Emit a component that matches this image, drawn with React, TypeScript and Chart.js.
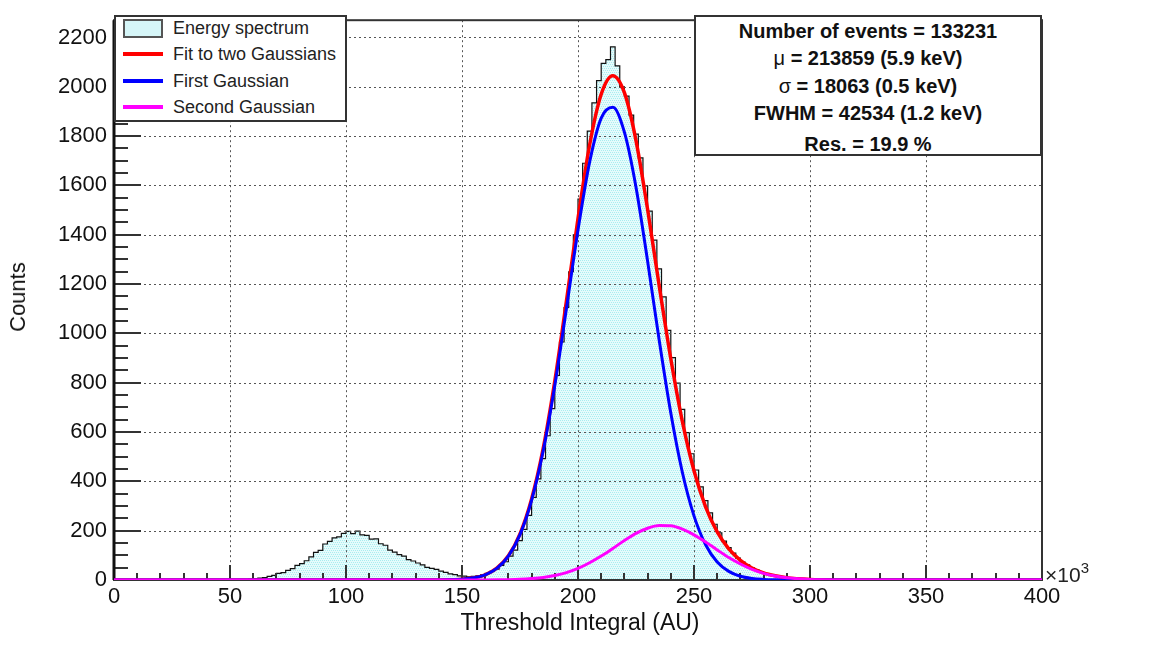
import { useEffect, useRef } from 'react';
import { Chart, registerables } from 'chart.js';

Chart.register(...registerables);

// x values are in units of 10^3 (AU)
const xMajorTicks = [0, 50, 100, 150, 200, 250, 300, 350, 400];
const yMajorTicks = [0, 200, 400, 600, 800, 1000, 1200, 1400, 1600, 1800, 2000, 2200];
const xMinorStep = 10;
const yMinorStep = 50;
const yMax = 2270;

// histogram: bins of 2k starting at 50k
const histStart = 50;
const histBinWidth = 2;
const histCounts = [
  0, 1, 1, 2, 3, 5, 8, 10, 15, 19,
  27, 30, 39, 46, 59, 66, 78, 94, 112, 120,
  146, 157, 171, 175, 189, 197, 188, 198, 183, 181,
  166, 167, 147, 141, 121, 113, 103, 97, 83, 77,
  69, 61, 51, 47, 43, 36, 31, 25, 22, 17,
  16, 13, 15, 17, 21, 27, 35, 44, 59, 74,
  97, 121, 160, 205, 262, 335, 410, 492, 585, 695,
  830, 965, 1105, 1250, 1400, 1545, 1690, 1820, 1935, 2025,
  2095, 2110, 2162, 2085, 2000, 1962, 1885, 1808, 1712, 1598,
  1496, 1378, 1262, 1148, 1012, 902, 798, 692, 598, 512,
  446, 378, 322, 272, 226, 191, 158, 131, 109, 89,
  73, 61, 49, 41, 31, 26, 19, 16, 12, 9,
  7, 5, 4, 3, 2, 1, 1, 0,
];

// fitted curves sampled along x
const curveX = [
  0, 130, 140, 145, 150, 155, 160, 165, 170, 175,
  180, 185, 190, 195, 200, 205, 210, 215, 220, 225,
  230, 235, 240, 245, 250, 255, 260, 265, 270, 275,
  280, 285, 290, 295, 300, 305, 310, 320, 400,
];
const fitTotal = [
  0, 0, 0.4, 1.2, 3.5, 9, 21, 48, 98, 187,
  329, 534, 807, 1130, 1466, 1764, 1970, 2045, 1976, 1782,
  1503, 1193, 897, 642, 443, 297, 195, 126, 80, 49,
  29, 17, 9, 5, 2.5, 1.2, 0.5, 0.1, 0,
];
const firstGauss = [
  0, 0, 0.4, 1.2, 3.5, 9, 21, 47, 97, 184,
  323, 524, 789, 1100, 1419, 1694, 1873, 1917, 1816, 1593,
  1293, 972, 677, 436, 260, 143, 73, 35, 15, 6,
  2.3, 0.8, 0.3, 0.1, 0, 0, 0, 0, 0,
];
const secondGauss = [
  0, 0, 0, 0, 0, 0.1, 0.3, 0.7, 1.4, 2.8,
  5.6, 10, 18, 30, 47, 70, 97, 128, 160, 189,
  210, 221, 220, 206, 183, 154, 122, 91, 65, 43,
  27, 16, 9, 5, 2.5, 1.2, 0.5, 0.1, 0,
];

const legendItems = ['Energy spectrum', 'Fit to two Gaussians', 'First Gaussian', 'Second Gaussian'];
const legendColors = ['', '#ff0000', '#0000ff', '#ff00ff'];

const FONT = "'Liberation Sans', Arial, Helvetica, sans-serif";

const rootFrame = {
  id: 'rootFrame',
  afterDatasetDraw(chart: any, args: any) {
    if (args.index !== 0) return;
    const { ctx, chartArea: a } = chart;
    const xs = chart.scales.x;
    const ys = chart.scales.y;
    ctx.save();
    // dotted grid
    ctx.strokeStyle = '#555';
    ctx.lineWidth = 1;
    ctx.setLineDash([2, 3]);
    ctx.beginPath();
    for (const v of xMajorTicks) {
      if (v <= xs.min || v >= xs.max) continue;
      const px = Math.round(xs.getPixelForValue(v)) + 0.5;
      ctx.moveTo(px, a.top);
      ctx.lineTo(px, a.bottom);
    }
    for (const v of yMajorTicks) {
      if (v <= 0) continue;
      const py = Math.round(ys.getPixelForValue(v)) + 0.5;
      ctx.moveTo(a.left, py);
      ctx.lineTo(a.right, py);
    }
    ctx.stroke();
    ctx.setLineDash([]);
    // inward ticks
    ctx.strokeStyle = '#333';
    ctx.lineWidth = 2;
    ctx.beginPath();
    for (let v = xs.min; v <= xs.max; v += xMinorStep) {
      const len = v % 50 === 0 ? 15 : 7;
      const px = Math.round(xs.getPixelForValue(v));
      ctx.moveTo(px, a.bottom);
      ctx.lineTo(px, a.bottom - len);
    }
    for (let v = 0; v <= ys.max; v += yMinorStep) {
      const len = v % 200 === 0 ? 27 : 14;
      const py = Math.round(ys.getPixelForValue(v));
      ctx.moveTo(a.left, py);
      ctx.lineTo(a.left + len, py);
    }
    ctx.stroke();
    // frame
    ctx.strokeStyle = '#333';
    ctx.lineWidth = 2;
    ctx.strokeRect(a.left, a.top, a.right - a.left, a.bottom - a.top);
    ctx.strokeStyle = '#111';
    ctx.lineWidth = 3;
    ctx.beginPath();
    ctx.moveTo(a.left, a.top);
    ctx.lineTo(a.left, a.bottom);
    ctx.stroke();
    ctx.restore();
  },
};

export default function App() {
  const canvasRef = useRef<HTMLCanvasElement>(null);
  const chartRef = useRef<Chart | null>(null);

  useEffect(() => {
    if (!canvasRef.current) return;
    const ctx = canvasRef.current.getContext('2d');
    if (!ctx) return;

    const tile = document.createElement('canvas');
    tile.width = 4;
    tile.height = 4;
    const tctx = tile.getContext('2d')!;
    tctx.fillStyle = '#e6fbfb';
    tctx.fillRect(0, 0, 4, 4);
    tctx.fillStyle = '#a8edf1';
    tctx.fillRect(0, 0, 1, 1);
    tctx.fillRect(2, 0, 1, 1);
    tctx.fillRect(1, 2, 1, 1);
    tctx.fillRect(3, 2, 1, 1);
    const pattern = ctx.createPattern(tile, 'repeat');

    const histPoints = histCounts.map((c, i) => ({ x: histStart + i * histBinWidth, y: c }));
    histPoints.push({ x: histStart + histCounts.length * histBinWidth, y: 0 });
    const curve = (ys: number[]) => curveX.map((x, i) => ({ x, y: ys[i] }));

    chartRef.current = new Chart(ctx, {
      type: 'line',
      data: {
        datasets: [
          {
            label: legendItems[0],
            data: histPoints,
            stepped: true,
            borderColor: '#111',
            borderWidth: 1.2,
            backgroundColor: pattern as any,
            fill: 'origin',
            pointRadius: 0,
            order: 4,
          },
          {
            label: legendItems[1],
            data: curve(fitTotal),
            borderColor: legendColors[1],
            borderWidth: 3.5,
            cubicInterpolationMode: 'monotone',
            pointRadius: 0,
            fill: false,
            order: 3,
          },
          {
            label: legendItems[2],
            data: curve(firstGauss),
            borderColor: legendColors[2],
            borderWidth: 3,
            cubicInterpolationMode: 'monotone',
            pointRadius: 0,
            fill: false,
            order: 2,
          },
          {
            label: legendItems[3],
            data: curve(secondGauss),
            borderColor: legendColors[3],
            borderWidth: 3,
            cubicInterpolationMode: 'monotone',
            pointRadius: 0,
            fill: false,
            order: 1,
          },
        ],
      },
      options: {
        animation: false,
        responsive: false,
        maintainAspectRatio: false,
        events: [],
        layout: { padding: { left: 0, top: 15, right: 110, bottom: 0 } },
        plugins: {
          legend: { display: false },
          tooltip: { enabled: false },
        },
        scales: {
          x: {
            type: 'linear',
            min: 0,
            max: 400,
            afterBuildTicks: (scale: any) => {
              scale.ticks = xMajorTicks.map((v) => ({ value: v }));
            },
            afterFit: (scale: any) => {
              scale.height = 68;
            },
            grid: { display: false, drawTicks: false },
            border: { display: false },
            ticks: {
              padding: 4,
              maxRotation: 0,
              color: '#111',
              font: { family: FONT, size: 22 },
              callback: (v: any) => String(v),
            },
          },
          y: {
            type: 'linear',
            min: 0,
            max: yMax,
            afterBuildTicks: (scale: any) => {
              scale.ticks = yMajorTicks.map((v) => ({ value: v }));
            },
            afterFit: (scale: any) => {
              scale.width = 114;
            },
            grid: { display: false, drawTicks: false },
            border: { display: false },
            ticks: {
              padding: 7,
              color: '#111',
              font: { family: FONT, size: 22 },
              callback: (v: any) => String(v),
            },
          },
        },
      },
      plugins: [rootFrame],
    });

    return () => {
      if (chartRef.current) {
        chartRef.current.destroy();
        chartRef.current = null;
      }
    };
  }, []);

  const statsLines = [
    { pre: '', sym: 'Number of events', text: ' = 133231', top: 14 },
    { pre: 'μ', sym: '', text: ' = 213859 (5.9 keV)', top: 41 },
    { pre: 'σ', sym: '', text: ' = 18063 (0.5 keV)', top: 69 },
    { pre: '', sym: 'FWHM', text: ' = 42534 (1.2 keV)', top: 96 },
    { pre: '', sym: 'Res.', text: ' = 19.9 %', top: 127 },
  ];

  return (
    <div
      style={{
        position: 'fixed',
        left: 0,
        top: 0,
        width: 1152,
        height: 648,
        background: '#fff',
        fontFamily: FONT,
        color: '#111',
      }}
    >
      <canvas ref={canvasRef} width={1152} height={648} style={{ display: 'block', width: 1152, height: 648 }} />

      {/* legend */}
      <div
        style={{
          position: 'absolute',
          left: 114,
          top: 15,
          width: 233,
          height: 107,
          boxSizing: 'border-box',
          border: '2px solid #333',
          background: '#fff',
        }}
      >
        {legendItems.map((label, i) => {
          const cy = [11, 37, 64, 90][i];
          return (
            <div key={label}>
              {i === 0 ? (
                <div
                  style={{
                    position: 'absolute',
                    left: 7,
                    top: cy - 9,
                    width: 40,
                    height: 19,
                    boxSizing: 'border-box',
                    border: '2px solid #555',
                    background: '#d6f6f8',
                  }}
                />
              ) : (
                <div
                  style={{
                    position: 'absolute',
                    left: 7,
                    top: cy - 2,
                    width: 40,
                    height: 4,
                    background: legendColors[i],
                  }}
                />
              )}
              <div
                style={{
                  position: 'absolute',
                  left: 57,
                  top: cy,
                  transform: 'translateY(-50%)',
                  fontSize: 18,
                  lineHeight: '18px',
                  whiteSpace: 'nowrap',
                  color: '#222',
                }}
              >
                {label}
              </div>
            </div>
          );
        })}
      </div>

      {/* stats box */}
      <div
        style={{
          position: 'absolute',
          left: 694,
          top: 15,
          width: 348,
          height: 141,
          boxSizing: 'border-box',
          border: '2px solid #333',
          background: '#fff',
        }}
      >
        {statsLines.map((l) => (
          <div
            key={l.text}
            style={{
              position: 'absolute',
              left: 0,
              right: 0,
              top: l.top,
              transform: 'translateY(-50%)',
              textAlign: 'center',
              fontSize: 20,
              lineHeight: '20px',
              fontWeight: 'bold',
              whiteSpace: 'nowrap',
            }}
          >
            {l.pre && <span style={{ fontWeight: 'normal' }}>{l.pre}</span>}
            {l.sym}
            {l.text}
          </div>
        ))}
      </div>

      {/* axis titles */}
      <div
        style={{
          position: 'absolute',
          left: 18,
          top: 297,
          transform: 'translate(-50%, -50%) rotate(-90deg)',
          fontSize: 22,
          lineHeight: 1,
          whiteSpace: 'nowrap',
        }}
      >
        Counts
      </div>
      <div
        style={{
          position: 'absolute',
          left: 580,
          top: 622,
          transform: 'translate(-50%, -50%)',
          fontSize: 23,
          lineHeight: 1,
          whiteSpace: 'nowrap',
        }}
      >
        Threshold Integral (AU)
      </div>
      <div
        style={{
          position: 'absolute',
          left: 1045,
          top: 564,
          fontSize: 21,
          lineHeight: 1,
          whiteSpace: 'nowrap',
          color: '#222',
        }}
      >
        ×10<span style={{ fontSize: 15, position: 'relative', top: -9 }}>3</span>
      </div>
    </div>
  );
}
